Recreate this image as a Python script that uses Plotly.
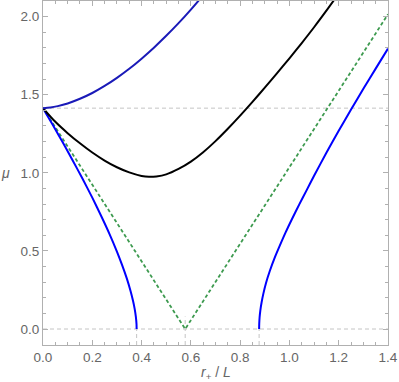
"""mu vs r+/L branches, Mathematica-style framed plot."""
import plotly.graph_objects as go

# upper (dark blue) branch
upper_x = [0.0, 0.03, 0.06, 0.1, 0.15, 0.2, 0.25, 0.3, 0.35, 0.4, 0.45, 0.5, 0.55, 0.6, 0.65, 0.7]
upper_mu = [1.414, 1.418, 1.427, 1.444, 1.474, 1.511, 1.556, 1.608, 1.666, 1.731, 1.801,
            1.877, 1.958, 2.045, 2.137, 2.234]

# black branch with minimum near r+/L ~ 0.43
black_x = [0.0, 0.05, 0.1, 0.15, 0.2, 0.25, 0.3, 0.35, 0.4, 0.43, 0.46, 0.5, 0.55, 0.6,
           0.65, 0.7, 0.75, 0.8, 0.85, 0.9, 0.95, 1.0, 1.05, 1.1, 1.15, 1.2]
black_mu = [1.414, 1.3265, 1.254, 1.189, 1.130, 1.0785, 1.0355, 1.0025, 0.980, 0.9745,
            0.977, 0.990, 1.025, 1.072, 1.132, 1.203, 1.282, 1.366, 1.454, 1.545, 1.638,
            1.733, 1.831, 1.932, 2.038, 2.148]

# lower-left blue branch ending at mu = 0
left_x = [0.0, 0.04, 0.08, 0.12, 0.16, 0.2, 0.24, 0.27, 0.3, 0.32, 0.34, 0.355, 0.365,
          0.372, 0.377, 0.3795, 0.380]
left_mu = [1.414, 1.306, 1.195, 1.081, 0.963, 0.841, 0.711, 0.608, 0.496, 0.414, 0.324,
           0.245, 0.182, 0.129, 0.076, 0.030, 0.0]

# right blue branch starting at mu = 0
right_x = [0.877, 0.8775, 0.879, 0.882, 0.887, 0.894, 0.905, 0.92, 0.94, 0.96, 0.985,
           1.01, 1.04, 1.07, 1.1, 1.15, 1.2, 1.25, 1.3, 1.35, 1.4]
right_mu = [0.0, 0.035, 0.075, 0.12, 0.17, 0.225, 0.295, 0.37, 0.455, 0.53, 0.62, 0.703,
            0.798, 0.889, 0.981, 1.128, 1.269, 1.405, 1.538, 1.667, 1.795]

# green dashed V
green_x = [0.0, 0.577, 1.4]
green_mu = [1.414, 0.0, 2.015]

# gray reference lines
h_levels = [0.0, 1.414]
v_marks = [0.380, 0.577, 0.877]
v_tops = [0.0, 0.08, 0.0]

X_RANGE = [0, 1.4]
Y_RANGE = [-0.1024, 2.10]
GRAY = "#c4c4c4"
FRAME = "#b0b0b0"
FONT = "Liberation Sans"

fig = go.Figure()

for lvl in h_levels:
    fig.add_trace(go.Scatter(x=X_RANGE, y=[lvl, lvl], mode="lines",
                             line=dict(color=GRAY, width=1, dash="4px,3px"),
                             hoverinfo="skip"))
for vx, vt in zip(v_marks, v_tops):
    fig.add_trace(go.Scatter(x=[vx, vx], y=[Y_RANGE[0], vt], mode="lines",
                             line=dict(color=GRAY, width=1, dash="4px,3px"),
                             hoverinfo="skip"))

fig.add_trace(go.Scatter(x=green_x, y=green_mu, mode="lines",
                         line=dict(color="#3d9a4f", width=1.8, dash="3.5px,2.5px")))
fig.add_trace(go.Scatter(x=left_x, y=left_mu, mode="lines",
                         line=dict(color="#0000ff", width=2, shape="spline", smoothing=0.6)))
fig.add_trace(go.Scatter(x=right_x, y=right_mu, mode="lines",
                         line=dict(color="#0000ff", width=2, shape="spline", smoothing=0.6)))
fig.add_trace(go.Scatter(x=black_x, y=black_mu, mode="lines",
                         line=dict(color="#000000", width=2, shape="spline", smoothing=0.8)))
fig.add_trace(go.Scatter(x=upper_x, y=upper_mu, mode="lines",
                         line=dict(color="#1a1ab8", width=2, shape="spline", smoothing=0.8)))

axis_common = dict(
    showgrid=False, zeroline=False,
    showline=True, linecolor=FRAME, linewidth=1, mirror="allticks",
    ticks="inside", ticklen=5, tickcolor=FRAME, tickwidth=1,
    tickfont=dict(family=FONT, size=13.5, color="#666666"),
)

fig.update_xaxes(range=X_RANGE, tickvals=[0, 0.2, 0.4, 0.6, 0.8, 1.0, 1.2, 1.4],
                 ticktext=["0.0", "0.2", "0.4", "0.6", "0.8", "1.0", "1.2", "1.4"],
                 minor=dict(ticks="inside", ticklen=3, dtick=0.05, tick0=0,
                            tickcolor=FRAME, showgrid=False),
                 **axis_common)
fig.update_yaxes(range=Y_RANGE, tickvals=[0, 0.5, 1.0, 1.5, 2.0],
                 ticktext=["0.0", "0.5", "1.0", "1.5", "2.0"],
                 minor=dict(ticks="inside", ticklen=3, dtick=0.1, tick0=0,
                            tickcolor=FRAME, showgrid=False),
                 **axis_common)

fig.add_annotation(text="<i>r</i><sub>+</sub> / <i>L</i>", xref="paper", yref="paper",
                   x=0.5, y=-0.08, yanchor="middle", showarrow=False,
                   font=dict(family=FONT, size=14, color="#666666"))
fig.add_annotation(text="<i>μ</i>", xref="paper", yref="paper",
                   x=-0.11, y=0.5, xanchor="center", showarrow=False,
                   font=dict(family=FONT, size=14, color="#666666"))

fig.update_layout(
    width=399, height=382,
    margin=dict(l=43, r=11, t=1, b=37),
    plot_bgcolor="white", paper_bgcolor="white",
    showlegend=False,
)

# the page's default body margin would shift the figure; drop it
fig.write_html("out.html", config={"displayModeBar": False},
               post_script="document.body.style.margin='0';")
